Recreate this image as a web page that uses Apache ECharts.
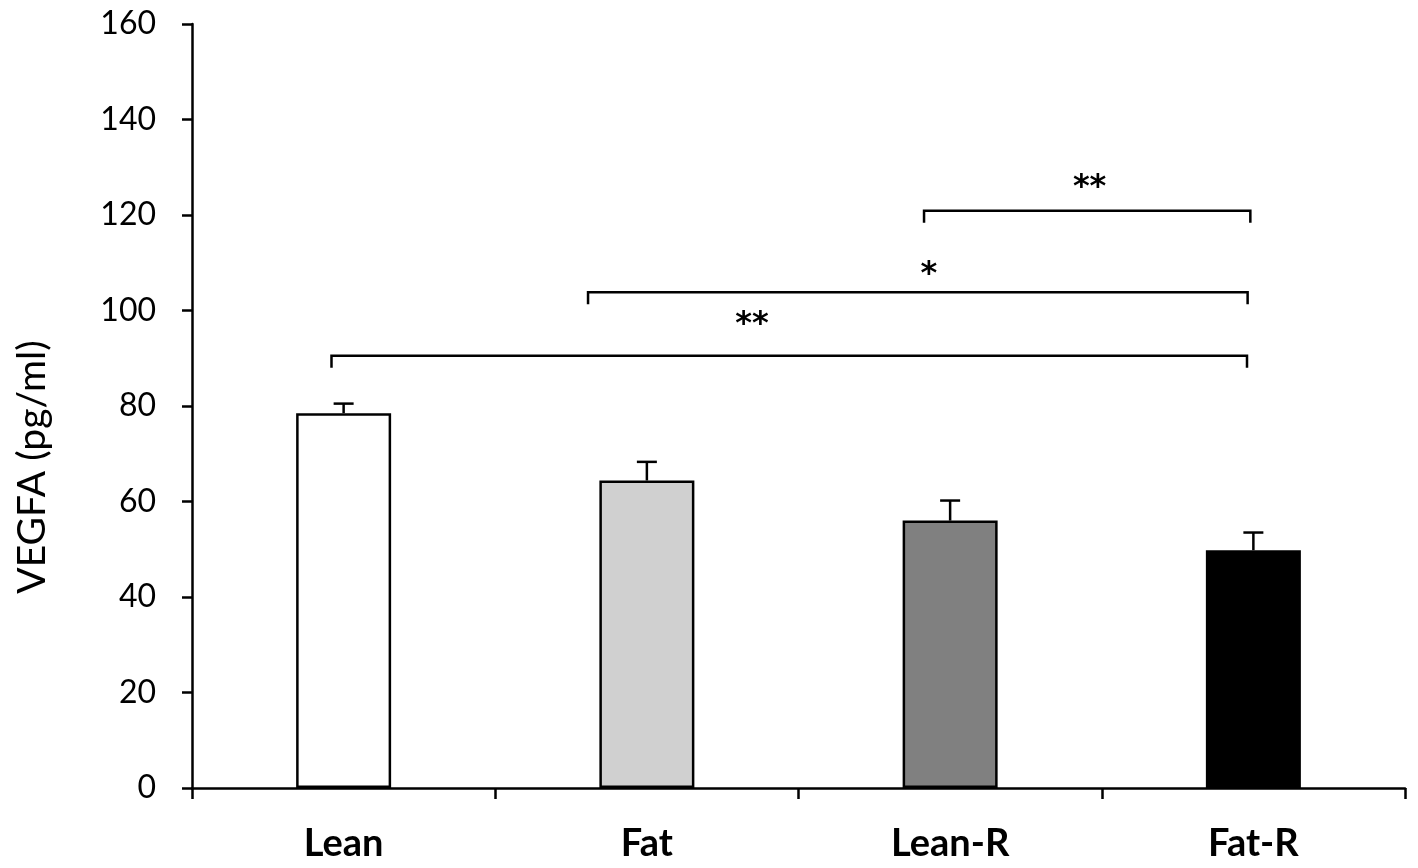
<!DOCTYPE html>
<html>
<head>
<meta charset="utf-8">
<script src="https://cdn.jsdelivr.net/npm/echarts@6/dist/echarts.min.js"></script>
<style>html,body{margin:0;padding:0;background:#fff;}#c{width:1418px;height:868px;}</style>
</head>
<body>
<div id="c"></div>
<script>
const categories = ['Lean', 'Fat', 'Lean-R', 'Fat-R'];
const values = [78.5, 64.4, 56.0, 49.8];
const errors = [2.0, 3.9, 4.2, 3.7];
const barColors = ['#ffffff', '#d0d0d0', '#808080', '#000000'];
const yTicks = [0, 20, 40, 60, 80, 100, 120, 140, 160];
// significance brackets (x in category units, y in data units)
const bracketFrom = [-0.04, 0.806, 1.914];
const bracketTo = [2.979, 2.981, 2.99];
const bracketY = [90.5, 103.8, 120.9];
const bracketLabels = ['**', '*', '**'];
const bracketLabelX = [1.347, 1.93, 2.46];
const bracketLabelY = [97.0, 107.6, 125.8];

const chart = echarts.init(document.getElementById('c'));
const FONT = 'Lato';
chart.setOption({
  animation: false,
  backgroundColor: '#fff',
  grid: { left: 192, right: 13, top: 24, bottom: 80, containLabel: false },
  xAxis: [
    {
      type: 'category',
      data: categories,
      boundaryGap: true,
      axisLine: { lineStyle: { color: '#000', width: 2.5 } },
      axisTick: { show: true, length: 11, lineStyle: { color: '#000', width: 2.5 } },
      axisLabel: { color: '#000', fontFamily: FONT, fontWeight: 'bold', fontSize: 38, margin: 37 },
      splitLine: { show: false }
    },
    { type: 'value', min: -0.5, max: 3.5, show: false }
  ],
  yAxis: {
    type: 'value',
    min: yTicks[0],
    max: yTicks[yTicks.length - 1],
    interval: 20,
    name: 'VEGFA (pg/ml)',
    nameLocation: 'middle',
    nameGap: 140,
    nameTextStyle: { color: '#000', fontFamily: FONT, fontSize: 39, padding: [0, 122, 0, 0] },
    axisLine: { show: true, onZero: false, lineStyle: { color: '#000', width: 2.5 } },
    axisTick: { show: true, length: 10, lineStyle: { color: '#000', width: 2.5 } },
    axisLabel: { color: '#000', fontFamily: FONT, fontSize: 32, margin: 36 },
    splitLine: { show: false }
  },
  series: [
    {
      type: 'bar',
      xAxisIndex: 0,
      barWidth: 95,
      data: values.map((v, i) => ({
        value: v,
        itemStyle: { color: barColors[i], borderColor: '#000', borderWidth: 2.5 }
      })),
      z: 2
    },
    {
      type: 'custom',
      xAxisIndex: 0,
      z: 3,
      data: values.map((v, i) => [i, v, errors[i]]),
      renderItem: function (params, api) {
        const i = api.value(0), v = api.value(1), e = api.value(2);
        const p0 = api.coord([i, v]);
        const p1 = api.coord([i, v + e]);
        return {
          type: 'group',
          children: [
            { type: 'line', shape: { x1: p0[0], y1: p0[1], x2: p1[0], y2: p1[1] }, style: { stroke: '#000', lineWidth: 2.5 } },
            { type: 'line', shape: { x1: p1[0] - 10, y1: p1[1], x2: p1[0] + 10, y2: p1[1] }, style: { stroke: '#000', lineWidth: 2.5 } }
          ]
        };
      }
    },
    {
      type: 'custom',
      xAxisIndex: 1,
      z: 3,
      data: bracketY.map((y, k) => [bracketFrom[k], bracketTo[k], y, bracketLabelX[k], bracketLabelY[k]]),
      renderItem: function (params, api) {
        const k = params.dataIndex;
        const a = api.coord([api.value(0), api.value(2)]);
        const b = api.coord([api.value(1), api.value(2)]);
        const t = api.coord([api.value(3), api.value(4)]);
        const drop = 12;
        return {
          type: 'group',
          children: [
            { type: 'polyline', shape: { points: [[a[0], a[1] + drop], [a[0], a[1]], [b[0], b[1]], [b[0], b[1] + drop]] },
              style: { stroke: '#000', lineWidth: 2.5, fill: null } },
            { type: 'text', x: t[0], y: t[1],
              style: { text: bracketLabels[k], fill: '#000', font: 'bold 32px "DejaVu Sans"', align: 'center', verticalAlign: 'middle' } }
          ]
        };
      }
    }
  ]
});
</script>
</body>
</html>
